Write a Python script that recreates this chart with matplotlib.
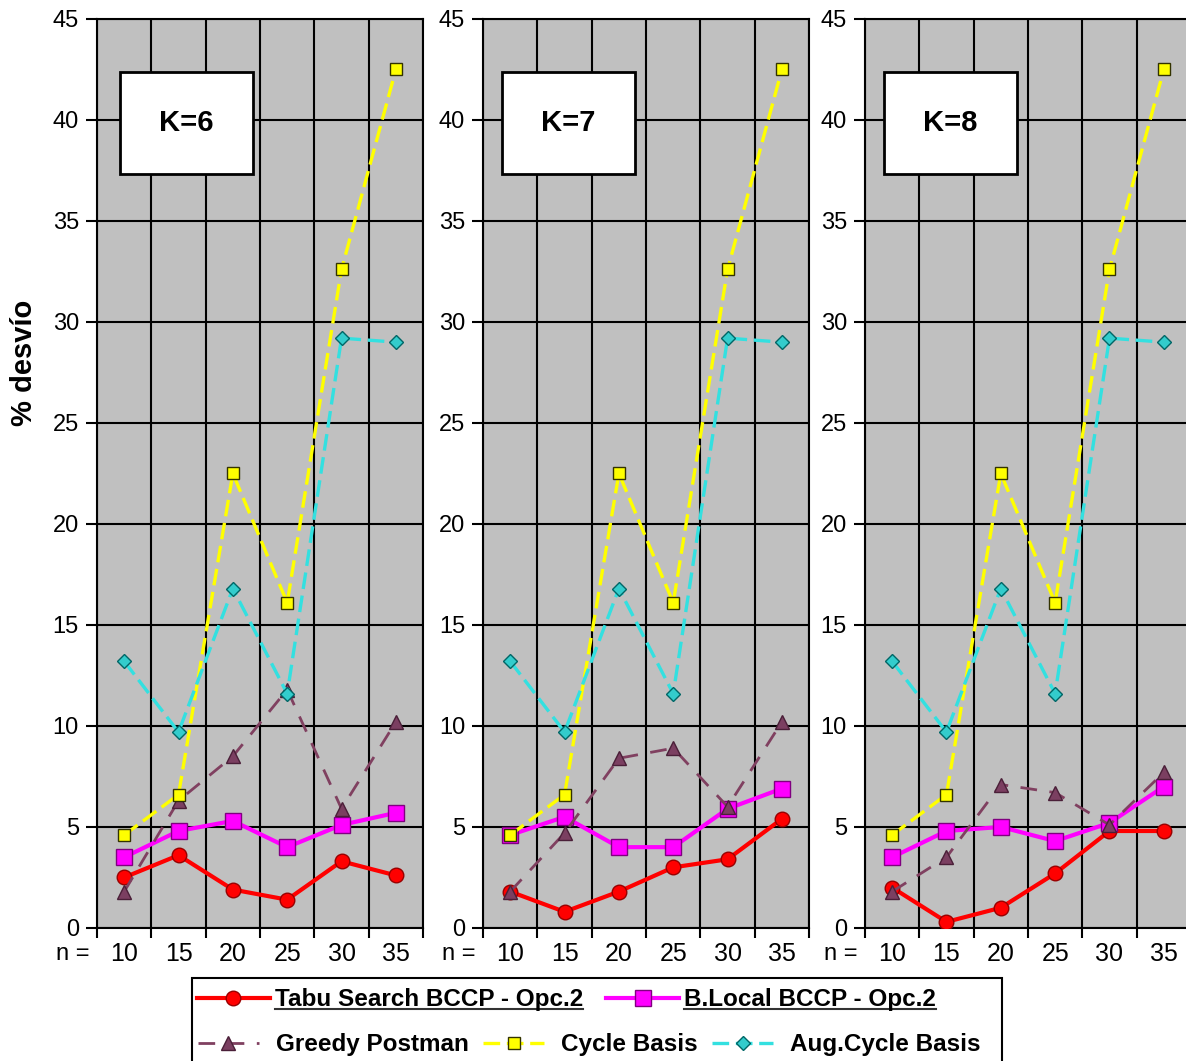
import numpy as np
import matplotlib.pyplot as plt
from matplotlib.patches import Rectangle
from matplotlib.lines import Line2D

plt.rcParams['font.family'] = ['Liberation Sans', 'DejaVu Sans']

# data
n_labels = ['10', '15', '20', '25', '30', '35']
k_titles = ['K=6', 'K=7', 'K=8']

tabu = [[2.5, 3.6, 1.9, 1.4, 3.3, 2.6],
        [1.8, 0.8, 1.8, 3.0, 3.4, 5.4],
        [2.0, 0.3, 1.0, 2.7, 4.8, 4.8]]
blocal = [[3.5, 4.8, 5.3, 4.0, 5.1, 5.7],
          [4.6, 5.5, 4.0, 4.0, 5.9, 6.9],
          [3.5, 4.8, 5.0, 4.3, 5.2, 7.0]]
greedy = [[1.8, 6.3, 8.5, 11.8, 5.9, 10.2],
          [1.8, 4.7, 8.4, 8.9, 6.0, 10.2],
          [1.8, 3.5, 7.1, 6.7, 5.1, 7.7]]
cycle = [[4.6, 6.6, 22.5, 16.1, 32.6, 42.5],
         [4.6, 6.6, 22.5, 16.1, 32.6, 42.5],
         [4.6, 6.6, 22.5, 16.1, 32.6, 42.5]]
aug = [[13.2, 9.7, 16.8, 11.6, 29.2, 29.0],
       [13.2, 9.7, 16.8, 11.6, 29.2, 29.0],
       [13.2, 9.7, 16.8, 11.6, 29.2, 29.0]]

names = ['Tabu Search BCCP - Opc.2', 'B.Local BCCP - Opc.2',
         'Greedy Postman', 'Cycle Basis', 'Aug.Cycle Basis']

fig = plt.figure(figsize=(11.86, 10.61), dpi=100)

lefts = [0.0818, 0.4073, 0.7293]
box_x = [0.070, 0.058, 0.058]
x = np.arange(6) + 0.5

for i in range(3):
    ax = fig.add_axes([lefts[i], 0.1254, 0.2749, 0.8567])
    ax.set_facecolor('#C0C0C0')
    ax.set_xlim(0, 6)
    ax.set_ylim(0, 45)
    ax.set_xticks(np.arange(7))
    ax.set_xticklabels([])
    ax.set_xticks(x, minor=True)
    ax.set_xticklabels(n_labels, minor=True, fontsize=18)
    ax.tick_params(axis='x', which='minor', length=0, pad=10)
    ax.tick_params(axis='x', which='major', length=7, width=1.5)
    ax.set_yticks(range(0, 46, 5))
    ax.tick_params(axis='y', length=8, width=1.5, labelsize=17, pad=5)
    ax.grid(True, which='major', color='black', lw=1.5)
    ax.set_axisbelow(True)
    for s in ax.spines.values():
        s.set_linewidth(1.5)

    ax.plot(x, tabu[i], color='#FF0000', lw=3, marker='o', ms=10.5,
            mfc='#FF0000', mec='#990000', zorder=3, label=names[0])
    ax.plot(x, blocal[i], color='#FF00FF', lw=3, marker='s', ms=12,
            mfc='#FF00FF', mec='#800080', zorder=4, label=names[1])
    ax.plot(x, greedy[i], color='#804060', lw=2, dashes=(6, 4.5), marker='^', ms=10.5,
            mfc='#7B3F61', mec='#4A1F38', zorder=5, label=names[2])
    ax.plot(x, cycle[i], color='#FFFF00', lw=2.4, dashes=(5, 2), marker='s', ms=8.5,
            mfc='#FFFF00', mec='#333300', zorder=6, label=names[3])
    ax.plot(x, aug[i], color='#33E0E0', lw=2.4, dashes=(5, 2), marker='D', ms=7,
            mfc='#33CCCC', mec='#006666', zorder=7, label=names[4])

    ax.add_patch(Rectangle((box_x[i], 0.829), 0.408, 0.113, transform=ax.transAxes,
                           fc='white', ec='black', lw=2, zorder=10))
    ax.text(box_x[i] + 0.204, 0.8855, k_titles[i], transform=ax.transAxes,
            ha='center', va='center', fontsize=21, fontweight='bold', zorder=11)
    ax.text(-0.074, -0.029, 'n =', transform=ax.transAxes, ha='center',
            va='center', fontsize=17)

fig.text(0.020, 0.658, '% desvío', rotation=90, ha='center', va='center',
         fontsize=21, fontweight='bold')

# legend
fig.add_artist(Rectangle((0.1619, -0.02), 0.683, 0.0982, transform=fig.transFigure,
                         fc='white', ec='black', lw=1.5))
handles, labels = ax.get_legend_handles_labels()
leg1 = fig.legend(handles[:2], labels[:2], ncol=2, loc='center left',
                  bbox_to_anchor=(0.1661, 0.0575), frameon=False, borderpad=0,
                  borderaxespad=0, handlelength=3.0, handletextpad=0.2,
                  columnspacing=0.95, prop={'weight': 'bold', 'size': 17.5})
leg2 = fig.legend(handles[2:], labels[2:], ncol=3, loc='center left',
                  bbox_to_anchor=(0.167, 0.0151), frameon=False, borderpad=0,
                  borderaxespad=0, handlelength=2.5, handletextpad=0.7,
                  columnspacing=0.6, prop={'weight': 'bold', 'size': 17.5})

# underline first legend row
fig.canvas.draw()
r = fig.canvas.get_renderer()
W, H = fig.bbox.width, fig.bbox.height
for t in leg1.get_texts():
    bb = t.get_window_extent(r)
    yy = (bb.y0 + 2) / H
    fig.add_artist(Line2D([bb.x0 / W, bb.x1 / W], [yy, yy], color='#333333',
                          lw=1.5, transform=fig.transFigure))

fig.savefig('out.png', dpi=100)
